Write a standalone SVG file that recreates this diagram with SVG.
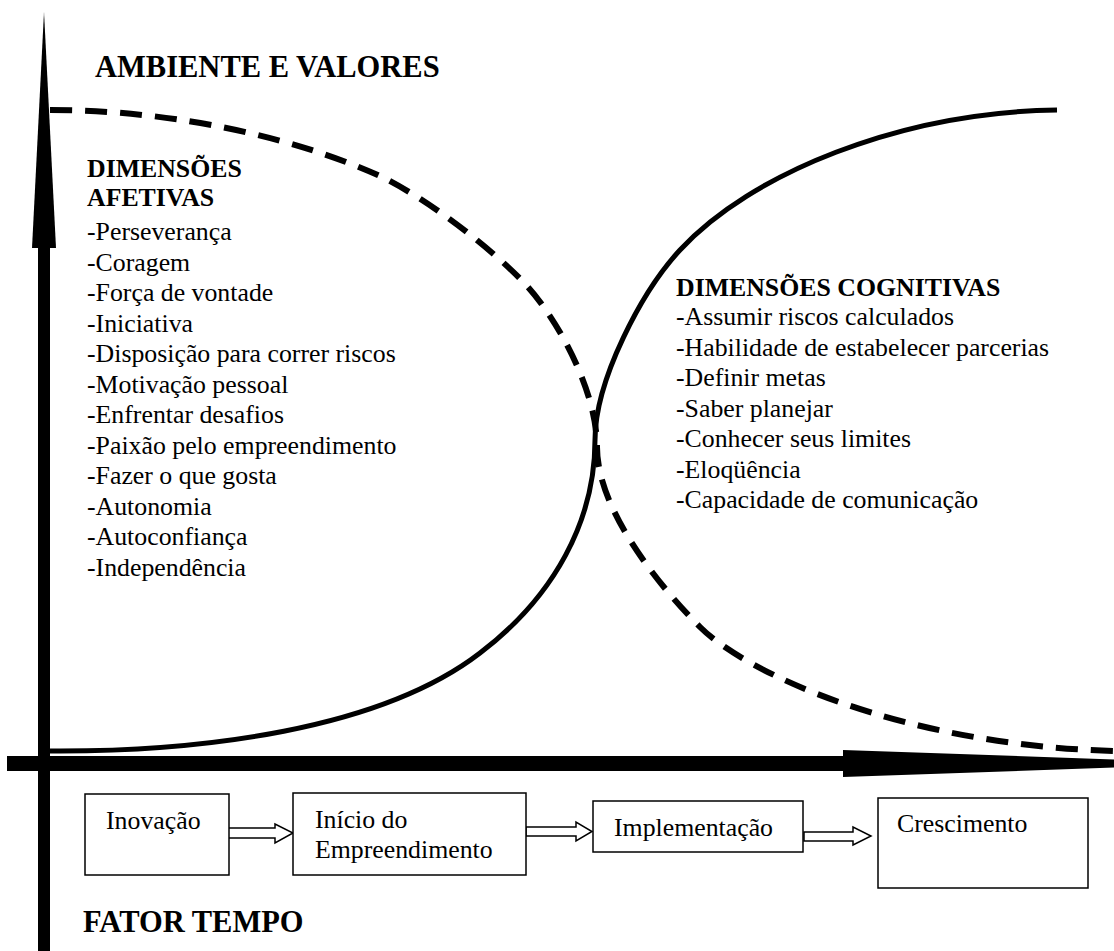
<svg xmlns="http://www.w3.org/2000/svg" width="1114" height="951" viewBox="0 0 1114 951">
<style>
text{font-family:"Liberation Serif","Times New Roman",serif;fill:#000}
.t{font-size:25.8px}
.b{font-size:25.8px;font-weight:bold}
.h{font-size:30.5px;font-weight:bold}
.box{fill:#fff;stroke:#000;stroke-width:1.5}
.blk{fill:#fff;stroke:#000;stroke-width:1.5;stroke-linejoin:miter}
.solid{fill:none;stroke:#000;stroke-width:5}
.dash{fill:none;stroke:#000;stroke-width:6;stroke-dasharray:22 13}
</style>
<rect width="1114" height="951" fill="#fff"/>
<g id="curves">
<path id="affective-curve" class="dash" d="M50,110 C180,110 300,140 380,176 C430,200 497,253 527,286 C557,319 597,390 597,447 C597,510 660,587 700,627 C745,672 900,745 1114,751"/>
<path id="cognitive-curve" class="solid" d="M50,751 C200,752 380,730 480,653 C555,596 595,520 595,440 C595,380 642,291 680,250 C750,174 900,112 1057,110"/>
</g>
<g id="axes">
<g id="axis-vertical">
<rect x="38" y="246" width="12" height="705" fill="#000"/>
<polygon points="32,248 44,12 56,248" fill="#000"/>
</g>
<g id="axis-horizontal">
<rect x="7" y="756" width="838" height="15" fill="#000"/>
<polygon points="843,750 1230,763.5 843,777" fill="#000"/>
</g>
</g>
<g id="title-ambiente"><text class="h" x="95" y="77">AMBIENTE E VALORES</text></g>
<g id="afetivas">
<text class="b" x="87" y="177">DIMENSÕES</text>
<text class="b" x="87" y="206">AFETIVAS</text>
<text class="t" x="87" y="240">-Perseverança</text>
<text class="t" x="87" y="270.5">-Coragem</text>
<text class="t" x="87" y="301">-Força de vontade</text>
<text class="t" x="87" y="331.5">-Iniciativa</text>
<text class="t" x="87" y="362">-Disposição para correr riscos</text>
<text class="t" x="87" y="392.5">-Motivação pessoal</text>
<text class="t" x="87" y="423">-Enfrentar desafios</text>
<text class="t" x="87" y="453.5">-Paixão pelo empreendimento</text>
<text class="t" x="87" y="484">-Fazer o que gosta</text>
<text class="t" x="87" y="514.5">-Autonomia</text>
<text class="t" x="87" y="545">-Autoconfiança</text>
<text class="t" x="87" y="575.5">-Independência</text>
</g>
<g id="cognitivas">
<text class="b" x="676" y="296">DIMENSÕES COGNITIVAS</text>
<text class="t" x="676" y="325">-Assumir riscos calculados</text>
<text class="t" x="676" y="355.5">-Habilidade de estabelecer parcerias</text>
<text class="t" x="676" y="386">-Definir metas</text>
<text class="t" x="676" y="416.5">-Saber planejar</text>
<text class="t" x="676" y="447">-Conhecer seus limites</text>
<text class="t" x="676" y="477.5">-Eloqüência</text>
<text class="t" x="676" y="508">-Capacidade de comunicação</text>
</g>
<g id="connectors">
<path class="blk" d="M227,828 L275,828 L275,824 L293,833 L275,843 L275,838 L227,838 Z"/>
<path class="blk" d="M526,827 L576,827 L576,822 L592,831.5 L576,841 L576,836 L526,836 Z"/>
<path class="blk" d="M804,832 L853,832 L853,827 L871,836 L853,845 L853,841 L804,841 Z"/>
</g>
<g id="node-inovacao">
<rect class="box" x="85" y="794" width="144" height="81"/>
<text class="t" x="106" y="829">Inovação</text>
</g>
<g id="node-inicio">
<rect class="box" x="293" y="793" width="233" height="82"/>
<text class="t" x="315" y="828">Início do</text>
<text class="t" x="315" y="858">Empreendimento</text>
</g>
<g id="node-implementacao">
<rect class="box" x="593" y="801" width="210" height="51"/>
<text class="t" x="614" y="836">Implementação</text>
</g>
<g id="node-crescimento">
<rect class="box" x="878" y="798" width="210" height="90"/>
<text class="t" x="897" y="832">Crescimento</text>
</g>
<g id="title-tempo"><text class="h" x="83" y="932">FATOR TEMPO</text></g>
</svg>
